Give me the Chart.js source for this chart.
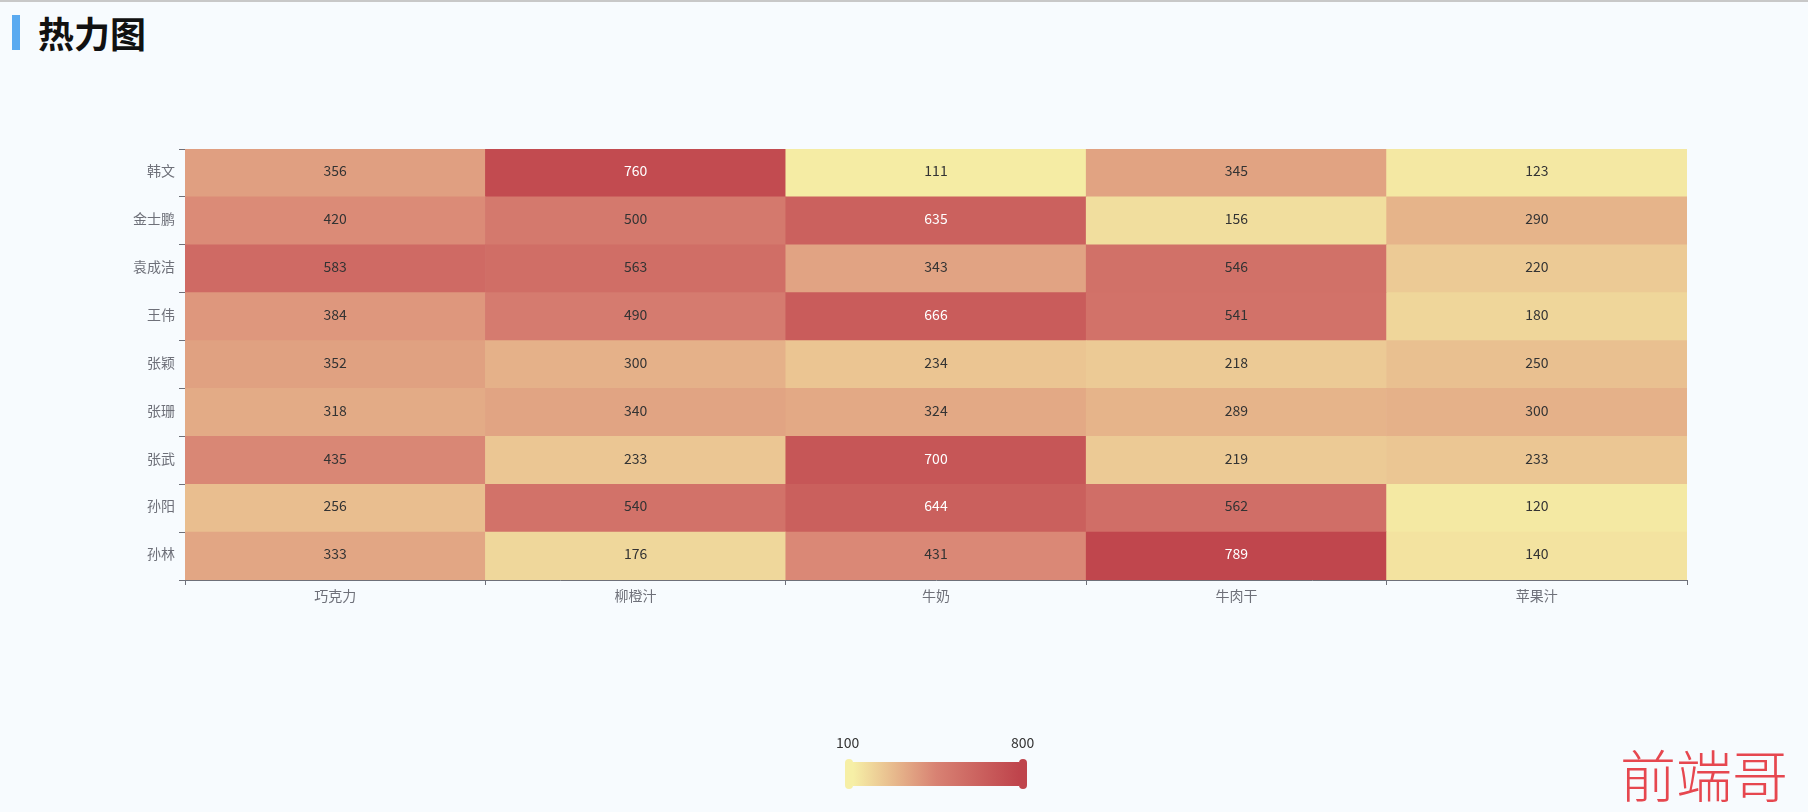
<!DOCTYPE html>
<html>
<head>
<meta charset="utf-8">
<title>热力图</title>
<script src="https://cdn.jsdelivr.net/npm/chart.js@4.4.1/dist/chart.umd.min.js"></script>
<style>
  html, body { margin: 0; padding: 0; background: #f7fbfe; }
  body { width: 1808px; height: 812px; overflow: hidden; position: relative; font-family: "Noto Sans CJK SC", sans-serif; }
  .topline { position: absolute; left: 0; top: 0; width: 1808px; height: 2px; background: #c8c8c8; }
  .title { position: absolute; left: 12px; top: 15px; height: 35px; border-left: 8px solid #5aaaf0; padding-left: 18px; font-size: 36px; font-weight: bold; line-height: 35px; color: #111; }
  #chart { position: absolute; left: 0; top: 0; }
  .vm { position: absolute; left: 836px; top: 732px; width: 204px; height: 60px; }
  .vm .lab { position: absolute; top: 0; font-size: 14px; line-height: 20px; color: #333; }
  .vm .bar { position: absolute; left: 17px; top: 30px; width: 166px; height: 24px; }
  .vm .handle { position: absolute; top: 27px; width: 8px; height: 30px; border-radius: 4px; }
  .mark { position: absolute; left: 1620px; top: 738px; font-size: 56px; line-height: 70px; color: #e6474f; font-family: "Noto Sans CJK SC", serif; font-weight: 300; }
</style>
</head>
<body>
<div class="topline"></div>
<div class="title">热力图</div>
<canvas id="chart" width="1808" height="812"></canvas>
<div class="vm">
  <div class="lab" id="vmMin" style="left:0"></div>
  <div class="lab" id="vmMax" style="left:175px"></div>
  <div class="bar" id="vmBar"></div>
  <div class="handle" id="vmLo" style="left:9px"></div>
  <div class="handle" id="vmHi" style="left:183px"></div>
</div>
<div class="mark">前端哥</div>
<script>
// columns (x) and rows (y, bottom to top)
const products = ["巧克力", "柳橙汁", "牛奶", "牛肉干", "苹果汁"];
const people = ["孙林", "孙阳", "张武", "张珊", "张颖", "王伟", "袁成洁", "金士鹏", "韩文"];

// sales per person, one value per product
const sunLin = [333, 176, 431, 789, 140];
const sunYang = [256, 540, 644, 562, 120];
const zhangWu = [435, 233, 700, 219, 233];
const zhangShan = [318, 340, 324, 289, 300];
const zhangYing = [352, 300, 234, 218, 250];
const wangWei = [384, 490, 666, 541, 180];
const yuanChengjie = [583, 563, 343, 546, 220];
const jinShipeng = [420, 500, 635, 156, 290];
const hanWen = [356, 760, 111, 345, 123];
const sales = [sunLin, sunYang, zhangWu, zhangShan, zhangYing, wangWei, yuanChengjie, jinShipeng, hanWen];

const rangeMin = 100;
const rangeMax = 800;
const rampColors = ["#f6efa6", "#d88273", "#bf444c"];

function hexRgb(h) {
  return [parseInt(h.substr(1, 2), 16), parseInt(h.substr(3, 2), 16), parseInt(h.substr(5, 2), 16)];
}
function colorFor(v) {
  let t = (v - rangeMin) / (rangeMax - rangeMin);
  t = Math.max(0, Math.min(1, t));
  const seg = t * (rampColors.length - 1);
  const i = Math.min(Math.floor(seg), rampColors.length - 2);
  const f = seg - i;
  const a = hexRgb(rampColors[i]), b = hexRgb(rampColors[i + 1]);
  const c = a.map((x, k) => Math.round(x + (b[k] - x) * f));
  return "rgb(" + c.join(",") + ")";
}

// visual map legend
document.getElementById("vmMin").textContent = rangeMin;
document.getElementById("vmMax").textContent = rangeMax;
document.getElementById("vmBar").style.background = "linear-gradient(to right," + rampColors.join(",") + ")";
document.getElementById("vmLo").style.background = rampColors[0];
document.getElementById("vmHi").style.background = rampColors[rampColors.length - 1];

const axisColor = "#6e7079";
const fontFamily = '"Noto Sans CJK SC", sans-serif';

// value labels in the middle of each cell
const cellLabels = {
  id: "cellLabels",
  afterDatasetsDraw(chart) {
    const ctx = chart.ctx;
    ctx.save();
    ctx.font = "14px " + fontFamily;
    ctx.textAlign = "center";
    ctx.textBaseline = "middle";
    chart.data.datasets.forEach(function (ds, r) {
      chart.getDatasetMeta(r).data.forEach(function (bar, c) {
        const v = sales[r][c];
        const p = bar.getCenterPoint();
        ctx.fillStyle = v >= 600 ? "#ffffff" : "#333333";
        ctx.fillText(v, p.x, p.y - 2);
      });
    });
    ctx.restore();
  }
};

const datasets = people.map(function (name, r) {
  return {
    label: name,
    data: products.map(function () { return [r, r + 1]; }),
    backgroundColor: function (c) { return colorFor(sales[r][c.dataIndex]); },
    borderWidth: 0,
    grouped: false,
    barPercentage: 1,
    categoryPercentage: 1
  };
});

new Chart(document.getElementById("chart"), {
  type: "bar",
  data: { labels: products, datasets: datasets },
  plugins: [cellLabels],
  options: {
    responsive: false,
    animation: false,
    layout: { padding: { left: 0, top: 149, right: 121, bottom: 192 } },
    plugins: { legend: { display: false }, tooltip: { enabled: false } },
    scales: {
      x: {
        type: "category",
        offset: true,
        grid: { offset: true, drawOnChartArea: false, tickLength: 5, tickColor: axisColor },
        border: { color: axisColor },
        ticks: { color: axisColor, font: { size: 14, family: fontFamily }, padding: 2 },
        afterFit: function (s) { s.height = 40; }
      },
      y: {
        type: "linear",
        min: 0,
        max: people.length,
        afterBuildTicks: function (s) {
          s.ticks = people.map(function (_, i) { return { value: i + 0.5 }; });
        },
        grid: { offset: true, drawOnChartArea: false, tickLength: 6, tickColor: axisColor },
        border: { display: false },
        ticks: {
          color: axisColor,
          font: { size: 14, family: fontFamily },
          padding: 4,
          labelOffset: -2,
          autoSkip: false,
          callback: function (v, i) { return people[i]; }
        },
        afterFit: function (s) { s.width = 185; }
      }
    }
  }
});
</script>
</body>
</html>
